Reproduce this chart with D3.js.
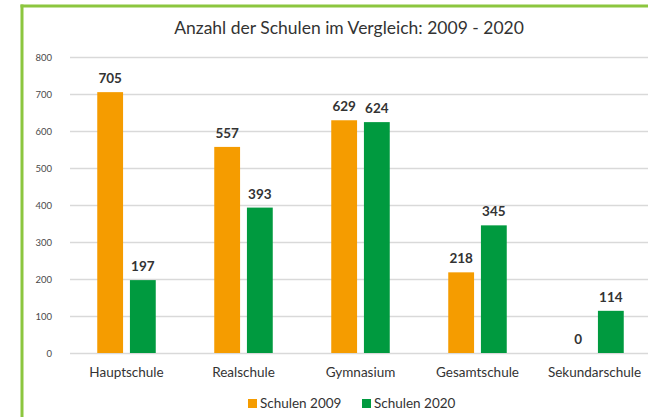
<!DOCTYPE html>
<html>
<head>
<meta charset="utf-8">
<script src="https://cdn.jsdelivr.net/npm/d3@7"></script>
<style>
  html, body { margin: 0; padding: 0; background: #fff; overflow: hidden; }
  svg { display: block; font-family: Lato, "Open Sans", sans-serif; }
</style>
</head>
<body>
<div id="chart"></div>
<script>
// data
const categories = ["Hauptschule", "Realschule", "Gymnasium", "Gesamtschule", "Sekundarschule"];
const series = ["Schulen 2009", "Schulen 2020"];
const values2009 = [705, 557, 629, 218, 0];
const values2020 = [197, 393, 624, 345, 114];
const yTicks = [0, 100, 200, 300, 400, 500, 600, 700, 800];
const colors = ["#f59c00", "#009a3f"];

const width = 648;
const height = 417;

const rows = categories.map((c, i) => ({
    cat: c,
    vals: [
        { key: series[0], value: values2009[i], idx: 0 },
        { key: series[1], value: values2020[i], idx: 1 }
    ]
}));

const svg = d3.select("#chart")
    .append("svg")
    .attr("width", width)
    .attr("height", height);

// green frame: left and top edges only
svg.append("line")
    .attr("x1", 22).attr("y1", 4.5)
    .attr("x2", 22).attr("y2", height)
    .attr("stroke", "#8cc63f")
    .attr("stroke-width", 3);
svg.append("line")
    .attr("x1", 20.5).attr("y1", 6)
    .attr("x2", width).attr("y2", 6)
    .attr("stroke", "#8cc63f")
    .attr("stroke-width", 3);

const x0 = d3.scaleBand()
    .domain(categories)
    .range([68, 653])
    .paddingInner(0.5)
    .paddingOuter(0.25);

const x1 = d3.scaleBand()
    .domain(series)
    .range([0, x0.bandwidth()])
    .paddingInner(0.21);

const y = d3.scaleLinear()
    .domain([0, 800])
    .range([353, 57]);

// gridlines + tick labels
const yAxis = d3.axisLeft(y)
    .tickValues(yTicks)
    .tickSize(-(width - 70))
    .tickPadding(18);

const gy = svg.append("g")
    .attr("transform", "translate(70,0)")
    .call(yAxis);
gy.select(".domain").remove();
gy.selectAll(".tick line")
    .attr("stroke", "#d9d9d9")
    .attr("stroke-width", 1.6);
gy.selectAll(".tick text")
    .attr("fill", "#4a4a4a")
    .attr("font-size", 9.5)
    .attr("font-family", "Lato, sans-serif");

// bars
const group = svg.append("g")
    .selectAll("g")
    .data(rows)
    .enter()
    .append("g")
    .attr("transform", d => `translate(${x0(d.cat)},0)`);

group.selectAll("rect")
    .data(d => d.vals)
    .enter()
    .append("rect")
    .attr("x", d => x1(d.key))
    .attr("y", d => y(d.value))
    .attr("width", x1.bandwidth())
    .attr("height", d => y(0) - y(d.value))
    .attr("fill", d => colors[d.idx]);

group.selectAll("text")
    .data(d => d.vals)
    .enter()
    .append("text")
    .attr("x", d => x1(d.key) + x1.bandwidth() / 2)
    .attr("y", d => y(d.value) - 9)
    .attr("text-anchor", "middle")
    .attr("font-size", 13.5)
    .attr("font-weight", "bold")
    .attr("fill", "#333")
    .text(d => d.value);

// category labels
const xAxis = d3.axisBottom(x0).tickSize(0).tickPadding(14);
const gx = svg.append("g")
    .attr("transform", `translate(0,${y(0)})`)
    .call(xAxis);
gx.select(".domain").remove();
gx.selectAll(".tick text")
    .attr("fill", "#333")
    .attr("font-size", 13.5)
    .attr("font-family", "Lato, sans-serif");

// title
svg.append("text")
    .attr("x", 349)
    .attr("y", 34)
    .attr("text-anchor", "middle")
    .attr("font-size", 17.5)
    .attr("fill", "#333")
    .text("Anzahl der Schulen im Vergleich: 2009 - 2020");

// legend
const legend = svg.append("g")
    .selectAll("g")
    .data(series)
    .enter()
    .append("g")
    .attr("transform", (d, i) => `translate(${248 + i * 114},399)`);

legend.append("rect")
    .attr("width", 9)
    .attr("height", 9)
    .attr("fill", (d, i) => colors[i]);

legend.append("text")
    .attr("x", 12)
    .attr("y", 8.5)
    .attr("font-size", 13.5)
    .attr("fill", "#333")
    .text(d => d);
</script>
</body>
</html>
